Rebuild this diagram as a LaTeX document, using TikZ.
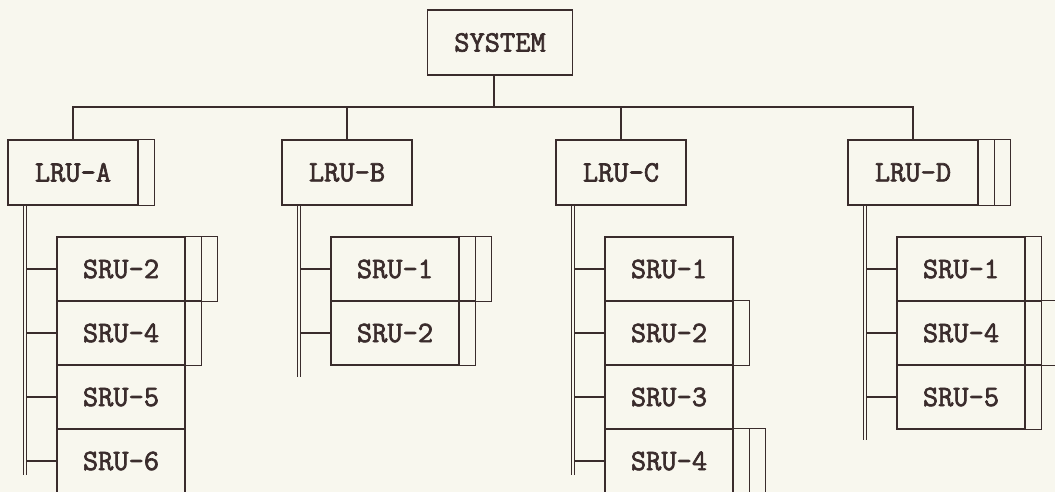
\documentclass[tikz,border=0pt]{standalone}
\usepackage{fontspec}
\newfontfamily\unitfont{Latin Modern Mono}[FakeBold=2.2]
\definecolor{paper}{RGB}{248,247,238}
\definecolor{ink}{RGB}{58,44,44}
\tikzset{
  unit/.style={draw=ink, line width=0.7pt, inner sep=0pt, minimum width=64pt,
    minimum height=32pt, text=ink, font=\unitfont\fontsize{14.8}{16}\selectfont},
  lru/.style={unit, minimum width=65pt, minimum height=32.5pt},
  sru/.style={unit},
  sysbox/.style={unit, minimum width=72.5pt, minimum height=32.5pt},
  wire/.style={draw=ink, line width=0.7pt},
  rail/.style={draw=ink, line width=0.6pt, double=paper, double distance=1.1pt}
}
% spare slots on the right of a box
\newcommand\spares[2]{\foreach \k in {1,...,#2}
  \draw[wire] (#1.north east) -| ([xshift=\k*8pt]#1.south east) -- (#1.south east);}

\begin{document}
\begin{tikzpicture}[x=0.5pt,y=-0.5pt]
	\fill[paper] (0,0) rectangle (1055,492);
	\useasboundingbox (0,0) rectangle (1055,492);
	\node[sysbox] (sys) at (500,42.5) {SYSTEM};
	\node[lru] (lruA) at (73,172.5) {LRU-A};
	\node[lru] (lruB) at (347,172.5) {LRU-B};
	\node[lru] (lruC) at (621,172.5) {LRU-C};
	\node[lru] (lruD) at (913,172.5) {LRU-D};
	% bus
	\coordinate (bus) at (0,107);
	\coordinate (sysdrop) at ([xshift=-3pt]sys.south);
	\draw[wire] (sysdrop) -- (sysdrop |- bus);
	\draw[wire] (lruA.north) |- (bus -| lruD.north) -- (lruD.north);
	\foreach \n in {B,C}
		\draw[wire] (lru\n.north) -- (lru\n.north |- bus);
	% SRUs
	\foreach \s [count=\r] in {2,4,5,6}
		\node[sru] (A\s) at (121,{205+64*\r}) {SRU-\s};
	\foreach \s [count=\r] in {1,2}
		\node[sru] (B\s) at (395,{205+64*\r}) {SRU-\s};
	\foreach \s [count=\r] in {1,2,3,4}
		\node[sru] (C\s) at (669,{205+64*\r}) {SRU-\s};
	\foreach \s [count=\r] in {1,4,5}
		\node[sru] (D\s) at (961,{205+64*\r}) {SRU-\s};
	% rails and taps
	\foreach \n/\last/\srus in {A/475/{2,4,5,6}, B/377/{1,2}, C/475/{1,2,3,4}, D/440/{1,4,5}} {
		\coordinate (rail\n) at ([xshift=-24pt]lru\n.south);
		\foreach \s in \srus
			\draw[wire] (rail\n |- \n\s.west) -- (\n\s.west);
		\draw[rail] (rail\n) -- (rail\n |- 0,\last);
	}
	% spare slots
	\spares{lruA}{1}
	\spares{lruD}{2}
	\spares{A2}{2}
	\spares{A4}{1}
	\spares{B1}{2}
	\spares{B2}{1}
	\spares{C2}{1}
	\spares{C4}{2}
	\spares{D1}{1}
	\spares{D4}{2}
	\spares{D5}{1}
\end{tikzpicture}
\end{document}
